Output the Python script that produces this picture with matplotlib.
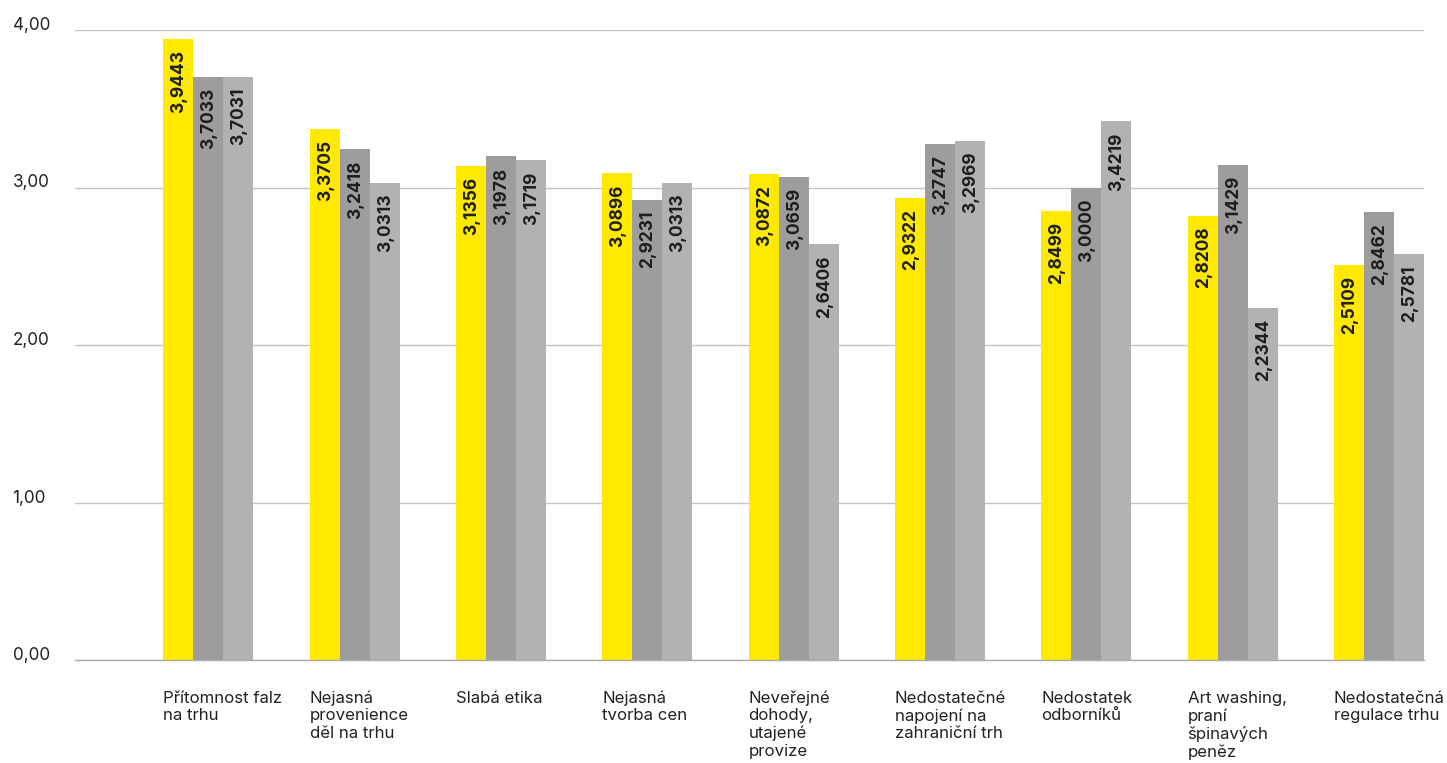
import matplotlib
matplotlib.use("Agg")
import matplotlib.pyplot as plt
import numpy as np

categories = [
    "Přítomnost falz\nna trhu",
    "Nejasná\nprovenience\nděl na trhu",
    "Slabá etika",
    "Nejasná\ntvorba cen",
    "Neveřejné\ndohody,\nutajené\nprovize",
    "Nedostatečné\nnapojení na\nzahraniční trh",
    "Nedostatek\nodborníků",
    "Art washing,\npraní\nšpinavých\npeněz",
    "Nedostatečná\nregulace trhu",
]
series_yellow = [3.9443, 3.3705, 3.1356, 3.0896, 3.0872, 2.9322, 2.8499, 2.8208, 2.5109]
series_dark = [3.7033, 3.2418, 3.1978, 2.9231, 3.0659, 3.2747, 3.0000, 3.1429, 2.8462]
series_light = [3.7031, 3.0313, 3.1719, 3.0313, 2.6406, 3.2969, 3.4219, 2.2344, 2.5781]
y_ticks = [0, 1, 2, 3, 4]
y_tick_labels = ["0,00", "1,00", "2,00", "3,00", "4,00"]

colors = ["#FFE900", "#9D9D9C", "#B2B2B2"]
font = ["Inter", "DejaVu Sans"]
plt.rcParams["font.family"] = font

fig = plt.figure(figsize=(14.47, 7.63), dpi=100)
ax = fig.add_axes([75 / 1447, 103 / 763, (1424 - 75) / 1447, 630 / 763])

x = np.arange(len(categories))
w = 0.205
for k, (vals, col) in enumerate(zip([series_yellow, series_dark, series_light], colors)):
    pos = x + (k - 1) * w
    bars = ax.bar(pos, vals, width=w, color=col, zorder=3, linewidth=0)
    for b, v in zip(bars, vals):
        ax.annotate(f"{v:.4f}".replace(".", ","),
                    xy=(b.get_x() + b.get_width() / 2, b.get_height()),
                    xytext=(0.5, -8), textcoords="offset points",
                    rotation=90, ha="center", va="top",
                    fontsize=12.5, fontweight="bold", color="#1E1E1E", zorder=4)

ax.set_xlim(-0.911, 8.308)
ax.set_ylim(0, 4)
ax.set_yticks(y_ticks)
ax.set_yticklabels(y_tick_labels, fontsize=12.3, color="#222222")
for lbl in ax.get_yticklabels():
    lbl.set_horizontalalignment("left")
    lbl.set_verticalalignment("baseline")
ax.tick_params(axis="y", length=0, pad=45)

ax.set_xticks(x - 1.5 * w)
ax.set_xticklabels(categories, fontsize=12.1, color="#222222", ha="left", va="top",
                   linespacing=1.2)
ax.tick_params(axis="x", length=0, pad=22)

ax.grid(axis="y", color="#C4C4C4", linewidth=1.0, zorder=0)
for s in ["top", "right", "left"]:
    ax.spines[s].set_visible(False)
ax.spines["bottom"].set_color("#AAAAAA")
ax.spines["bottom"].set_linewidth(1.0)
ax.spines["bottom"].set_zorder(5)

fig.savefig("out.png", dpi=100, facecolor="white")
